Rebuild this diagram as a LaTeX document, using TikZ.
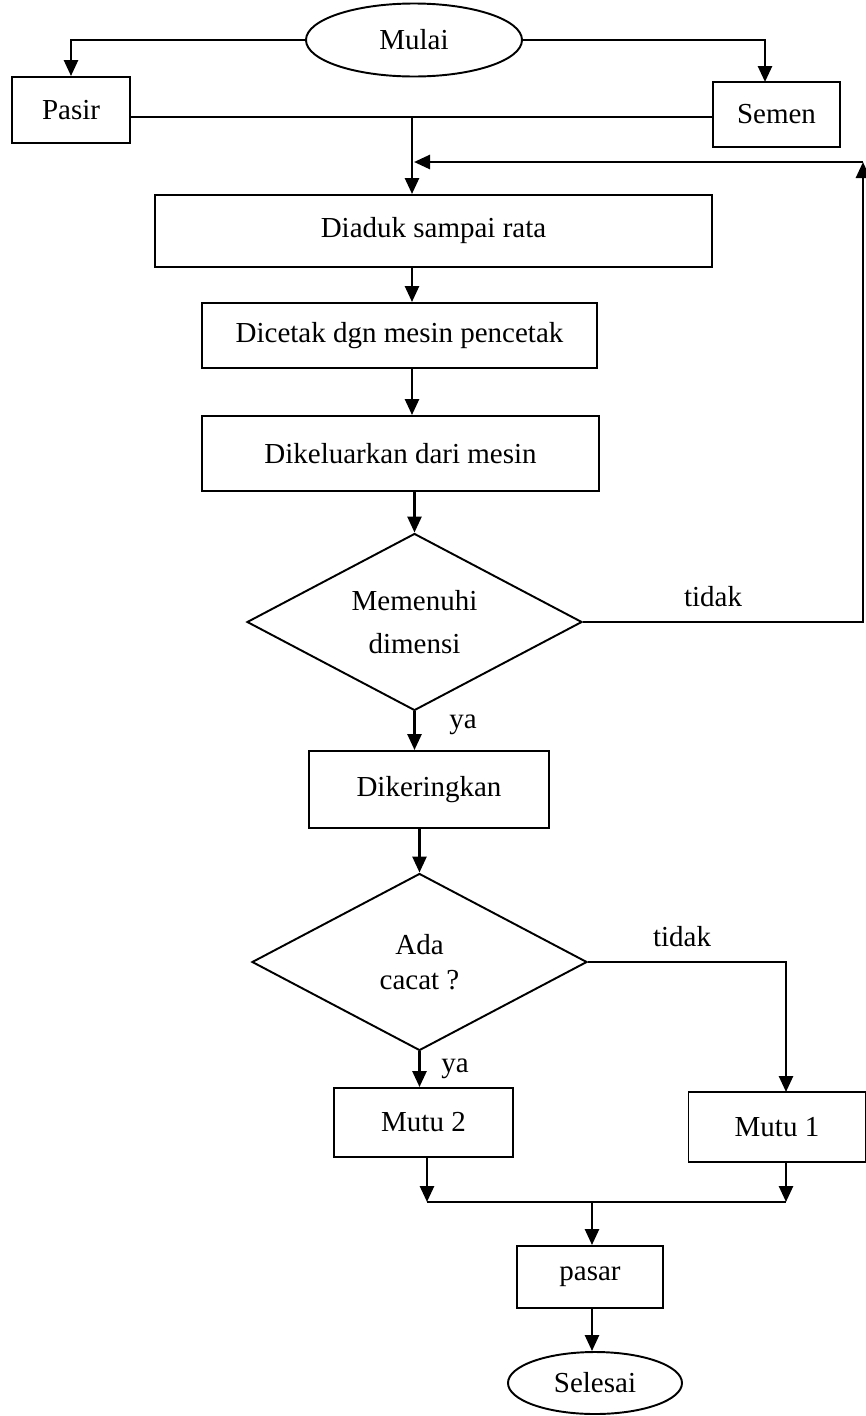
\documentclass[tikz,border=0pt]{standalone}
\usepackage{fontspec}
\setmainfont{Liberation Serif}
\usetikzlibrary{shapes.geometric,arrows.meta}
\tikzset{
  box/.style={draw, rectangle, inner sep=0pt, line width=1.1pt},
  terminal/.style={draw, ellipse, inner sep=0pt, line width=1.1pt},
  decision/.style={draw, diamond, aspect=1.9, inner sep=0pt, align=center, line width=1.1pt},
  arr/.style={-{Triangle[length=3.2mm,width=2.8mm]}},
  conn/.style={line width=1.5pt}
}
\begin{document}
\begin{tikzpicture}[x=0.2mm,y=-0.2mm,font=\fontsize{16.5}{20}\selectfont]
\useasboundingbox (0,0) rectangle (866,1416);
% nodes
\node[terminal, minimum width=43.2mm, minimum height=14.6mm] (mulai) at (414,40) {Mulai};
\node[box, minimum width=23.6mm, minimum height=13.2mm] (pasir) at (71,110) {Pasir};
\node[box, minimum width=25.4mm, minimum height=13mm] (semen) at (776.5,114.5) {Semen};
\node[box, minimum width=111.4mm, minimum height=14.4mm] (diaduk) at (433.5,231) {Diaduk sampai rata};
\node[box, minimum width=79mm, minimum height=13mm] (dicetak) at (399.5,335.5) {Dicetak dgn mesin pencetak};
\node[box, minimum width=79.4mm, minimum height=15mm] (dikeluarkan) at (400.5,453.5) {Dikeluarkan dari mesin};
\node[decision, minimum width=67mm, minimum height=35.4mm] (memenuhi) at (414.5,622) {Memenuhi\\[1.5mm]dimensi};
\node[box, minimum width=48mm, minimum height=15.4mm] (dikeringkan) at (429,789.5) {Dikeringkan};
\node[decision, minimum width=67mm, minimum height=35.4mm] (cacat) at (419.5,962) {Ada\\cacat ?};
\node[box, minimum width=35.8mm, minimum height=13.8mm] (mutu2) at (423.5,1122.5) {Mutu 2};
\node[box, minimum width=35.4mm, minimum height=14mm] (mutu1) at (777,1127) {Mutu 1};
\node[box, minimum width=29.2mm, minimum height=12.4mm] (pasar) at (590,1277) {pasar};
\node[terminal, minimum width=34.8mm, minimum height=12.4mm] (selesai) at (595,1383) {Selesai};
% labels
\node (tidakA) at (713,597) {tidak};
\node (tidakB) at (682,937) {tidak};
\node (yaA) at (463,725) {ya};
\node (yaB) at (455,1069) {ya};
% helper points
\coordinate (semenin) at (765,82);
\coordinate (join) at (412,117);
\coordinate (loopR) at (863,162);
\coordinate (loopL) at (414,162);
\coordinate (mutuin) at (786,1092);
\coordinate (mergeL) at (427,1202);
\coordinate (mergeR) at (786,1202);
\coordinate (mergeM) at (592,1202);
% connectors
\begin{scope}[conn]
\draw[arr] (mulai.west) -| (pasir.north);
\draw[arr] (mulai.east) -| (semenin);
\draw (pasir.east |- join) -- (semen.west |- join);
\draw[arr] (join) -- (join |- diaduk.north);
\draw[arr] (memenuhi.east) -| (loopR);
\draw[arr] (loopR) -- (loopL);
\draw[arr] (join |- diaduk.south) -- (join |- dicetak.north);
\draw[arr] (join |- dicetak.south) -- (join |- dikeluarkan.north);
\draw[arr] (dikeluarkan.south -| memenuhi.north) -- (memenuhi.north);
\draw[arr] (memenuhi.south) -- (memenuhi.south |- dikeringkan.north);
\draw[arr] (dikeringkan.south -| cacat.north) -- (cacat.north);
\draw[arr] (cacat.south) -- (cacat.south |- mutu2.north);
\draw[arr] (cacat.east) -| (mutuin);
\draw[arr] (mergeL |- mutu2.south) -- (mergeL);
\draw[arr] (mergeR |- mutu1.south) -- (mergeR);
\draw (mergeL) -- (mergeR);
\draw[arr] (mergeM) -- (mergeM |- pasar.north);
\draw[arr] (mergeM |- pasar.south) -- (mergeM |- selesai.north);
\end{scope}
\end{tikzpicture}
\end{document}
